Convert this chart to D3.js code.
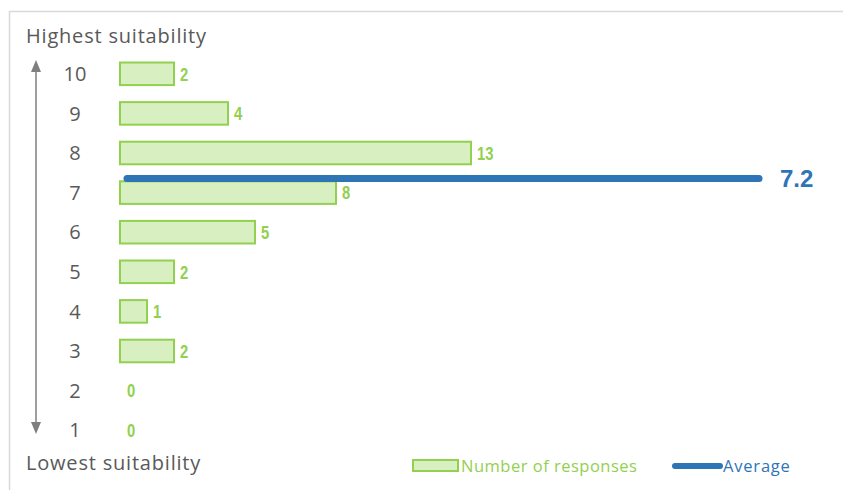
<!DOCTYPE html>
<html>
<head>
<meta charset="utf-8">
<script src="https://cdn.jsdelivr.net/npm/d3@7"></script>
<style>
  body { margin: 0; background: #fff; }
  svg { display: block; }
</style>
</head>
<body>
<div id="chart"></div>
<script>
const scores = [10, 9, 8, 7, 6, 5, 4, 3, 2, 1];
const responses = [2, 4, 13, 8, 5, 2, 1, 2, 0, 0];
const average = 7.2;
const legendLabels = ["Number of responses", "Average"];

const width = 843;
const height = 490;
const plot = { top: 54, bottom: 450, left: 120 };

const green = "#92d050";
const blue = "#2e75b6";
const grey = "#595959";
const body = "'Open Sans', 'Noto Sans', sans-serif";

const svg = d3.select("#chart")
  .append("svg")
  .attr("width", width)
  .attr("height", height);

// frame (only top and left edges show)
svg.append("rect")
  .attr("x", 9.5).attr("y", 11.5)
  .attr("width", 900).attr("height", 600)
  .attr("fill", "none")
  .attr("stroke", "#d9d9d9")
  .attr("stroke-width", 1.5);

const y = d3.scaleBand()
  .domain(scores)
  .range([plot.top, plot.bottom])
  .paddingInner(0.43)
  .paddingOuter(0.215);

const x = d3.scaleLinear()
  .domain([0, 1])
  .range([plot.left, plot.left + 27]);

// secondary axis for the average line
const yAvg = d3.scaleLinear()
  .domain([0, 10.5])
  .range([plot.bottom, plot.top]);

const rows = scores.map((s, i) => ({ s, v: responses[i] }));

// bars
svg.append("g")
  .selectAll("rect")
  .data(rows.filter(d => d.v > 0))
  .join("rect")
    .attr("x", x(0))
    .attr("y", d => y(d.s))
    .attr("width", d => x(d.v) - x(0))
    .attr("height", y.bandwidth())
    .attr("fill", "#d8efc2")
    .attr("stroke", green)
    .attr("stroke-width", 2);

// value labels, squeezed to look condensed
svg.append("g")
  .selectAll("text")
  .data(rows)
  .join("text")
    .attr("transform", d => `translate(${x(d.v) + (d.v > 0 ? 6 : 7)},${y(d.s) + y.bandwidth() / 2}) scale(0.78,1)`)
    .attr("dy", "0.36em")
    .attr("fill", green)
    .attr("font-family", "'Liberation Sans', Arial, sans-serif")
    .attr("font-weight", "bold")
    .attr("font-size", 19)
    .text(d => d.v);

// y axis tick labels
svg.append("g")
  .selectAll("text")
  .data(scores)
  .join("text")
    .attr("x", 75)
    .attr("y", d => y(d) + y.bandwidth() / 2)
    .attr("dy", "0.36em")
    .attr("text-anchor", "middle")
    .attr("fill", grey)
    .attr("font-family", body)
    .attr("font-size", 20)
    .text(d => d);

// double arrow
const arrowGrey = "#7f7f7f";
svg.append("line")
  .attr("x1", 36).attr("x2", 36)
  .attr("y1", 66).attr("y2", 428)
  .attr("stroke", arrowGrey)
  .attr("stroke-width", 1.5);
svg.append("path")
  .attr("d", "M36,60 L31,72 L41,72 Z")
  .attr("fill", arrowGrey);
svg.append("path")
  .attr("d", "M36,434 L31,422 L41,422 Z")
  .attr("fill", arrowGrey);

svg.append("text")
  .attr("x", 26).attr("y", 43)
  .attr("fill", grey)
  .attr("font-family", body)
  .attr("font-size", 20)
  .attr("letter-spacing", 0.8)
  .text("Highest suitability");

svg.append("text")
  .attr("x", 26).attr("y", 470)
  .attr("fill", grey)
  .attr("font-family", body)
  .attr("font-size", 20)
  .attr("letter-spacing", 0.8)
  .text("Lowest suitability");

// average line
svg.append("line")
  .attr("x1", 127).attr("x2", 759)
  .attr("y1", yAvg(average)).attr("y2", yAvg(average))
  .attr("stroke", blue)
  .attr("stroke-width", 7)
  .attr("stroke-linecap", "round");

svg.append("text")
  .attr("x", 780)
  .attr("y", yAvg(average))
  .attr("dy", "0.36em")
  .attr("fill", blue)
  .attr("font-family", "'Liberation Sans', Arial, sans-serif")
  .attr("font-weight", "bold")
  .attr("font-size", 24)
  .text(average.toFixed(1));

// legend
const lg = svg.append("g");
lg.append("rect")
  .attr("x", 413).attr("y", 460)
  .attr("width", 45).attr("height", 11)
  .attr("fill", "#d8efc2")
  .attr("stroke", green)
  .attr("stroke-width", 2);
lg.append("text")
  .attr("x", 461).attr("y", 466)
  .attr("dy", "0.36em")
  .attr("fill", green)
  .attr("font-family", body)
  .attr("font-size", 16.5)
  .attr("letter-spacing", 0.5)
  .text(legendLabels[0]);
lg.append("line")
  .attr("x1", 675).attr("x2", 720)
  .attr("y1", 466).attr("y2", 466)
  .attr("stroke", blue)
  .attr("stroke-width", 6)
  .attr("stroke-linecap", "round");
lg.append("text")
  .attr("x", 723).attr("y", 466)
  .attr("dy", "0.36em")
  .attr("fill", blue)
  .attr("font-family", body)
  .attr("font-size", 16.5)
  .attr("letter-spacing", 0.8)
  .text(legendLabels[1]);
</script>
</body>
</html>
